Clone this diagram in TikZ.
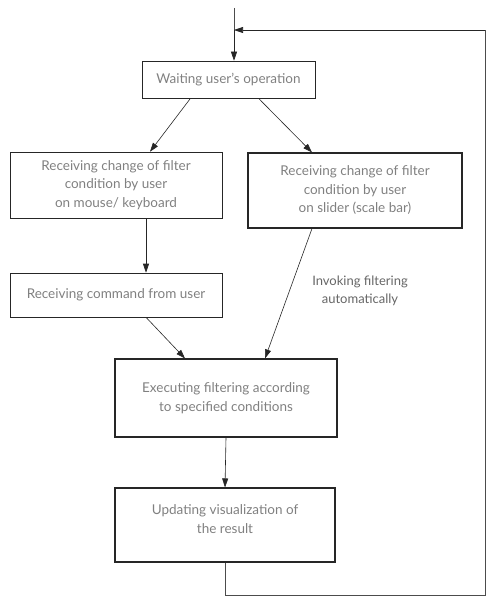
\documentclass[tikz,border=0pt]{standalone}
\usepackage{fontspec}
\setmainfont{Lato}
\usetikzlibrary{arrows.meta}
\begin{document}
\begin{tikzpicture}[x=1pt,y=-1pt,
  box/.style={draw=black!85,line width=0.6pt,text=black!50,align=center,font=\fontsize{13.5}{18.5}\selectfont,inner sep=0pt},
  thickbox/.style={box,line width=1.1pt},
  arr/.style={draw=black!85,line width=0.6pt,-{Triangle[length=9pt,width=6pt]}},
  ln/.style={draw=black!70,line width=0.5pt}]
\useasboundingbox (0,0) rectangle (488,596);
\node[box,minimum width=173pt,minimum height=37pt] (wait) at (228.5,79.5) {Waiting user's operation};
\node[box,minimum width=212pt,minimum height=66pt] (mouse) at (116,185) {Receiving change of filter\\condition by user\\on mouse/ keyboard};
\node[thickbox,minimum width=214pt,minimum height=75pt] (slider) at (355,190.5) {Receiving change of filter\\condition by user\\on slider (scale bar)};
\node[box,minimum width=212pt,minimum height=44pt] (cmd) at (116,295) {Receiving command from user};
\node[thickbox,minimum width=222pt,minimum height=78pt] (exec) at (226,398) {Executing filtering according\\to specified conditions};
\node[thickbox,minimum width=220pt,minimum height=74pt,text depth=12pt] (upd) at (225,525) {Updating visualization of\\the result};
\node[text=black!60,align=center,font=\fontsize{13}{18}\selectfont] (lbl) at (360,291) {Invoking filtering\\automatically};
\coordinate (top) at (234,8);
\coordinate (join) at (234,30);
\coordinate (rt) at (485,30);
\coordinate (rb) at (485,595);
\coordinate (bb) at (225,595);
\draw[ln] (top) -- (join);
\draw[arr] (join) -- (wait.north -| join);
\draw[ln] (upd.south) -- (bb) -- (rb) -- (rt);
\draw[arr] (rt) -- (join);
\draw[arr] ([xshift=-38pt]wait.south) -- ([xshift=34pt]mouse.north);
\draw[arr] ([xshift=30pt]wait.south) -- ([xshift=-43pt]slider.north);
\draw[arr] ([xshift=30pt]mouse.south) -- ([xshift=30pt]cmd.north);
\draw[arr] ([xshift=30pt]cmd.south) -- ([xshift=-41pt]exec.north);
\draw[arr] ([xshift=-43pt]slider.south) -- ([xshift=39pt]exec.north);
\draw[arr] (exec.south) -- (upd.north);
\end{tikzpicture}
\end{document}
